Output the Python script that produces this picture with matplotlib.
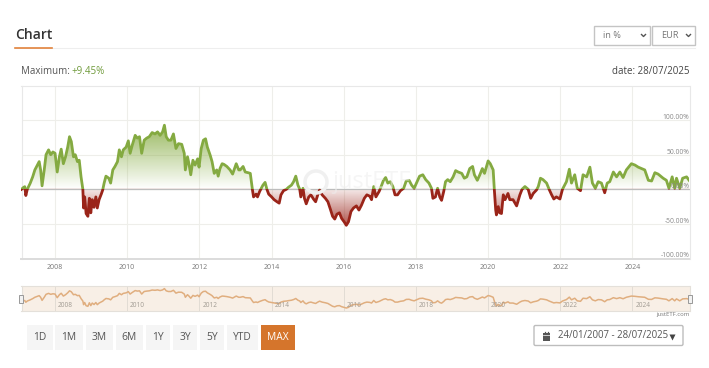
import matplotlib
matplotlib.use("Agg")
import matplotlib.pyplot as plt
import numpy as np
from matplotlib.patches import Circle, FancyBboxPatch, Rectangle

plt.rcParams["font.family"] = ["Open Sans", "DejaVu Sans"]

W, H = 709, 368

dates = [
    2007.07, 2007.12, 2007.16, 2007.19, 2007.23, 2007.31, 2007.38, 2007.44, 2007.49, 2007.56,
    2007.60, 2007.64, 2007.70, 2007.75, 2007.82, 2007.88, 2007.94, 2008.00, 2008.06, 2008.12,
    2008.17, 2008.23, 2008.29, 2008.35, 2008.40, 2008.45, 2008.51, 2008.56, 2008.62, 2008.67,
    2008.72, 2008.77, 2008.79, 2008.82, 2008.86, 2008.91, 2008.95, 2008.99, 2009.03, 2009.08,
    2009.13, 2009.17, 2009.22, 2009.28, 2009.32, 2009.36, 2009.41, 2009.49, 2009.54, 2009.60,
    2009.66, 2009.73, 2009.78, 2009.84, 2009.89, 2009.97, 2010.03, 2010.08, 2010.14, 2010.22,
    2010.28, 2010.34, 2010.40, 2010.47, 2010.54, 2010.61, 2010.69, 2010.77, 2010.84, 2010.91,
    2010.98, 2011.03, 2011.08, 2011.14, 2011.21, 2011.28, 2011.35, 2011.42, 2011.51, 2011.58,
    2011.61, 2011.67, 2011.71, 2011.76, 2011.82, 2011.88, 2011.95, 2011.99, 2012.05, 2012.11,
    2012.17, 2012.22, 2012.30, 2012.35, 2012.41, 2012.48, 2012.52, 2012.57, 2012.63, 2012.68,
    2012.76, 2012.85, 2012.92, 2013.02, 2013.09, 2013.13, 2013.21, 2013.27, 2013.35, 2013.41,
    2013.47, 2013.50, 2013.57, 2013.61, 2013.67, 2013.70, 2013.76, 2013.82, 2013.87, 2013.92,
    2014.00, 2014.07, 2014.15, 2014.21, 2014.26, 2014.33, 2014.41, 2014.47, 2014.55, 2014.61,
    2014.67, 2014.73, 2014.78, 2014.81, 2014.87, 2014.91, 2014.96, 2015.03, 2015.09, 2015.16,
    2015.22, 2015.28, 2015.33, 2015.40, 2015.49, 2015.56, 2015.63, 2015.69, 2015.75, 2015.81,
    2015.88, 2015.94, 2016.01, 2016.07, 2016.13, 2016.20, 2016.27, 2016.35, 2016.42, 2016.49,
    2016.57, 2016.64, 2016.72, 2016.77, 2016.83, 2016.89, 2016.98, 2017.05, 2017.10, 2017.16,
    2017.22, 2017.29, 2017.36, 2017.42, 2017.49, 2017.57, 2017.66, 2017.73, 2017.81, 2017.88,
    2017.95, 2018.03, 2018.10, 2018.19, 2018.27, 2018.36, 2018.43, 2018.47, 2018.54, 2018.60,
    2018.66, 2018.71, 2018.77, 2018.82, 2018.88, 2018.95, 2019.03, 2019.10, 2019.17, 2019.27,
    2019.34, 2019.41, 2019.49, 2019.57, 2019.62, 2019.70, 2019.77, 2019.84, 2019.90, 2020.00,
    2020.06, 2020.14, 2020.17, 2020.21, 2020.23, 2020.28, 2020.32, 2020.37, 2020.42, 2020.47,
    2020.55, 2020.60, 2020.69, 2020.79, 2020.88, 2020.94, 2021.02, 2021.11, 2021.18, 2021.25,
    2021.34, 2021.39, 2021.45, 2021.52, 2021.62, 2021.69, 2021.76, 2021.82, 2021.89, 2021.99,
    2022.06, 2022.17, 2022.25, 2022.31, 2022.40, 2022.47, 2022.56, 2022.63, 2022.73, 2022.82,
    2022.89, 2022.97, 2023.05, 2023.14, 2023.23, 2023.30, 2023.37, 2023.47, 2023.56, 2023.65,
    2023.74, 2023.83, 2023.97, 2024.07, 2024.16, 2024.25, 2024.34, 2024.44, 2024.53, 2024.62,
    2024.71, 2024.85, 2024.94, 2025.01, 2025.10, 2025.17, 2025.22, 2025.31, 2025.39, 2025.50,
    2025.57,
]
returns = [
    0, 2.4, 3.8, -9, 0, 8.6, 18, 28, 33, 40,
    28, 5, 28, 50, 57, 50, 54, 52, 25, 47,
    58, 37, 47, 61, 76, 69, 47, 50, 40, 42,
    18, 0, -27, -11, -35, -39, -13, -34, -15, -26,
    -11, -27, -15, -7, -1, 9, 19, 16, 9, 28,
    33, 40, 57, 47, 57, 61, 70, 52, 64, 78,
    74, 76, 52, 71, 74, 76, 82, 80, 83, 78,
    83, 92.6, 76, 71, 71, 80, 59, 66, 65, 52,
    28, 47, 37, 21, 42, 35, 44, 32, 59, 71,
    73, 61, 49, 40, 23, 28, 19, 30, 37, 36,
    33, 28, 22, 37, 28, 28, 33, 25, 24, 23,
    -1, -11, -7, -11, -3, 0, 6, 10, 0, -7,
    -11, -15, -18, -20, -8, -2, 0, 3, 6, 11,
    19, 6, 0, -11, 1.5, -13, -21, -11, -8, -14,
    -18, -8, -1, -8, -13, -18, -29, -39, -43, -36,
    -34, -42, -47, -52, -47, -32, -27, -24, -30, -23,
    -13, -8, -10, -15, 4, -11, -3, 6, 13, 17,
    9, 11, 4, -8, -8, -2, 1.5, 12, 13, 6,
    1.5, 11, 19, 21, 14, 9, 1.5, -13, -11, 1.5,
    -11, -16, -3, 11, 14, 11, 18, 27, 25, 23,
    16, 18, 30, 33, 21, 13, 21, 30, 23, 41,
    37, 28, 1, -30, -37, -25, -34, -35, -8, -15,
    -6, -15, -15, -24, -8, 0, 4, 0, -13, -6,
    -1, 4, 16, 14, 9, 0, -8, -14, -11, -14,
    0, 11, 29, 9, 21, 1.5, -2, 21, 18, 32,
    9, 1.5, 11, 9, -5, 9, 11, 25, 18, 25,
    17, 28, 37, 35, 32, 30, 28, 13, 12, 24,
    22, 16, 13, 1.5, 18, 1.5, 16, 1.5, 16, 18,
    13,
]

year_ticks = [2008, 2010, 2012, 2014, 2016, 2018, 2020, 2022, 2024]
y_ticks = [-100, -50, 0, 50, 100]
y_labels = ["-100.00%", "-50.00%", "0.00%", "50.00%", "100.00%"]
buttons = ["1D", "1M", "3M", "6M", "1Y", "3Y", "5Y", "YTD", "MAX"]
button_edges = [(26.7, 52.7), (55, 83), (85.7, 113), (115.7, 143), (146, 170),
                (172.7, 197.3), (200, 224), (227, 258), (261, 295)]

GREEN = "#84aa41"
RED = "#9a2419"
GRID = "#eeeeea"


def axes_px(fig, left, top, right, bottom):
    return fig.add_axes([left / W, 1 - bottom / H, (right - left) / W, (bottom - top) / H])


def gradient(rgb, a_low, a_high, n=200):
    arr = np.zeros((n, 1, 4))
    arr[..., :3] = rgb
    arr[:, 0, 3] = np.linspace(a_low, a_high, n)
    return arr


fig = plt.figure(figsize=(W / 100, H / 100), dpi=100)

# main chart
ax = axes_px(fig, 21.5, 85.5, 689.5, 258.5)
x0, x1 = 2007.07, 2025.58
ax.set_xlim(x0, x1)
ax.set_ylim(-100, 150)

poly = ax.fill_between(dates, returns, 0, facecolor="none", edgecolor="none")
clip = poly.get_paths()[0]
top_img = ax.imshow(gradient((0.52, 0.67, 0.25), 0.0, 0.85), extent=(x0, x1, 0, 95), origin="lower",
                    aspect="auto", zorder=1)
low_img = ax.imshow(gradient((0.60, 0.14, 0.10), 0.8, 0.08), extent=(x0, x1, -55, 0), origin="lower",
                    aspect="auto", zorder=1)
top_img.set_clip_path(clip, ax.transData)
low_img.set_clip_path(clip, ax.transData)
ax.set_xlim(x0, x1)
ax.set_ylim(-100, 150)

ax.axhline(0, color="#bdbdbd", lw=0.9, zorder=2)
up, = ax.plot(dates, returns, color=GREEN, lw=2.0, zorder=3, solid_joinstyle="round")
down, = ax.plot(dates, returns, color=RED, lw=2.0, zorder=3, solid_joinstyle="round")
up.set_clip_path(Rectangle((x0, 0), x1 - x0, 150, transform=ax.transData))
down.set_clip_path(Rectangle((x0, -100), x1 - x0, 100, transform=ax.transData))

ax.set_xticks(year_ticks)
ax.set_xticklabels(year_ticks, fontsize=5.0, color="#777777")
ax.set_yticks(y_ticks)
ax.set_yticklabels([])
ax.tick_params(length=0, pad=4)
ax.grid(True, color=GRID, lw=0.8)
ax.set_axisbelow(True)
for side in ("top", "left", "right"):
    ax.spines[side].set_color("#e8e8e8")
    ax.spines[side].set_linewidth(0.8)
ax.spines["bottom"].set_color("#dcdcdc")
ax.spines["bottom"].set_linewidth(1.4)

for val, lab in zip(y_ticks, y_labels):
    ax.annotate(lab, (x1, val), xytext=(0, -0.6), textcoords="offset points", ha="right", va="bottom",
                fontsize=4.9, color="#888888", zorder=4)

# navigator
nav = axes_px(fig, 21.5, 286, 689.5, 310.7)
nav.set_facecolor("#f8efe6")
nav.set_xlim(x0, x1)
nav.set_ylim(-72, 112)
nav.plot(dates, returns, color="#e0ae7f", lw=1.1)
nav.set_xticks(year_ticks)
nav.set_xticklabels([])
nav.set_yticks([])
nav.tick_params(length=0)
nav.grid(True, axis="x", color="#e2dcd4", lw=0.7)
for year in year_ticks:
    nav.annotate(str(year), (year, -72), xytext=(2, 1.5), textcoords="offset points", ha="left",
                 va="bottom", fontsize=4.7, color="#a09a92")
for spine in nav.spines.values():
    spine.set_color("#e4e0da")
    spine.set_linewidth(0.8)

# page furniture, in pixel coordinates
ui = fig.add_axes([0, 0, 1, 1], zorder=5)
ui.set_xlim(0, W)
ui.set_ylim(H, 0)
ui.axis("off")
ui.patch.set_alpha(0)

ui.plot([15, 695], [47.5, 47.5], color="#eeeeee", lw=0.8)
ui.plot([15, 52], [48, 48], color="#e2833c", lw=1.2)
ui.text(15, 35, "Chart", fontsize=10, color="#333333", va="center", fontweight="semibold")
ui.text(21.5, 71, "Maximum:", fontsize=7, color="#555555", va="center")
ui.text(71.5, 71, "+9.45%", fontsize=7, color="#6f9a3a", va="center")
ui.text(689.5, 71, "date: 28/07/2025", fontsize=7, color="#444444", va="center", ha="right")

for left, right, lab, tx in [(594, 650, "in %", 603), (652, 695, "EUR", 661)]:
    ui.add_patch(Rectangle((left, 25.5), right - left, 19.5, fc="white", ec="#c4c4c4", lw=1))
    ui.text(tx, 35.5, lab, fontsize=6.6, color="#777777", va="center")
    ui.plot([right - 8.5, right - 6.5, right - 4.5], [34.5, 36.5, 34.5], color="#555555", lw=1)

for (left, right), lab in zip(button_edges, buttons):
    active = lab == "MAX"
    ui.add_patch(Rectangle((left, 325), right - left, 25, fc="#d5752c" if active else "#f5f5f5", ec="none"))
    ui.text((left + right) / 2, 337.5, lab, fontsize=7.4, ha="center", va="center",
            color="white" if active else "#555555")

ui.add_patch(FancyBboxPatch((534, 325.5), 149, 20, boxstyle="round,pad=0,rounding_size=1.5",
                            fc="white", ec="#bdbdbd", lw=1))
ui.text(557.5, 336, "24/01/2007 - 28/07/2025", fontsize=6.9, color="#555555", va="center")
ui.add_patch(Rectangle((542.5, 333), 7.5, 7.5, fc="#555555", ec="none"))
ui.plot([544.5, 544.5], [331.5, 333.5], color="#555555", lw=0.9)
ui.plot([548, 548], [331.5, 333.5], color="#555555", lw=0.9)
ui.plot([542.5, 550], [335, 335], color="white", lw=0.5)
ui.plot([672], [336.5], marker="v", ms=3.8, color="#444444", mec="none")

ui.text(689.5, 314.5, "justETF.com", fontsize=4.2, color="#777777", ha="right", va="center")

for hx in (21, 690):
    ui.add_patch(Rectangle((hx - 2, 294.5), 4, 8, fc="#f2f2f2", ec="#999999", lw=0.7))

# watermark
ui.add_patch(Circle((316, 182), 11, fc="none", ec="#f0f0f0", lw=2.5, zorder=0))
ui.text(332, 182, "justETF", fontsize=17, color="#eeeeee", alpha=0.55, va="center", zorder=0)

fig.savefig("out.png", dpi=100)
